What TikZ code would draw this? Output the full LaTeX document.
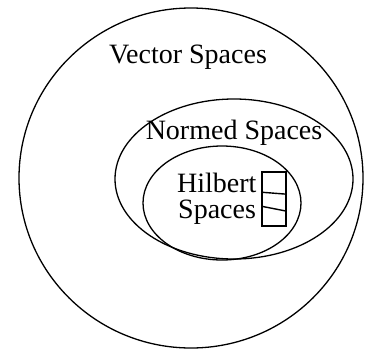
\documentclass[tikz,border=0pt]{standalone}
\usepackage{fontspec}
\setmainfont{Liberation Serif}
\usetikzlibrary{shapes.geometric}

\begin{document}
\begin{tikzpicture}[x=1pt, y=-1pt,
  setline/.style={line width=1.3pt},
  setlabel/.style={font=\fontsize{28}{25}\selectfont, inner sep=0pt}]
  \useasboundingbox (0,0) rectangle (366,348);
  % the three sets
  \node[setline, draw, ellipse, minimum width=344pt, minimum height=340pt, inner sep=0pt] (vector) at (191,178) {};
  \node[setline, draw, ellipse, minimum width=238pt, minimum height=160pt, inner sep=0pt] (normed) at (234,179) {};
  \node[setline, draw, ellipse, minimum width=158pt, minimum height=114pt, inner sep=0pt] (hilbert) at (222,203) {};
  % labels
  \node[setlabel, anchor=base] (vlabel) at (188,63) {Vector Spaces};
  \node[setlabel, anchor=base] (nlabel) at (234,139) {Normed Spaces};
  \node[setlabel, anchor=base west] (hlabel) at (177,192) {Hilbert};
  \node[setlabel, anchor=base west] (slabel) at (178,218) {Spaces};
  % little stack of pages
  \node[draw, line width=1.6pt, minimum width=24pt, minimum height=54pt, inner sep=0pt] (pages) at (274,199) {};
  \draw[line width=1.4pt] ([yshift=-21pt]pages.north west) -- ([yshift=-23pt]pages.north east);
  \draw[line width=1.4pt] ([yshift=-35pt]pages.north west) -- ([yshift=-40pt]pages.north east);
\end{tikzpicture}
\end{document}
